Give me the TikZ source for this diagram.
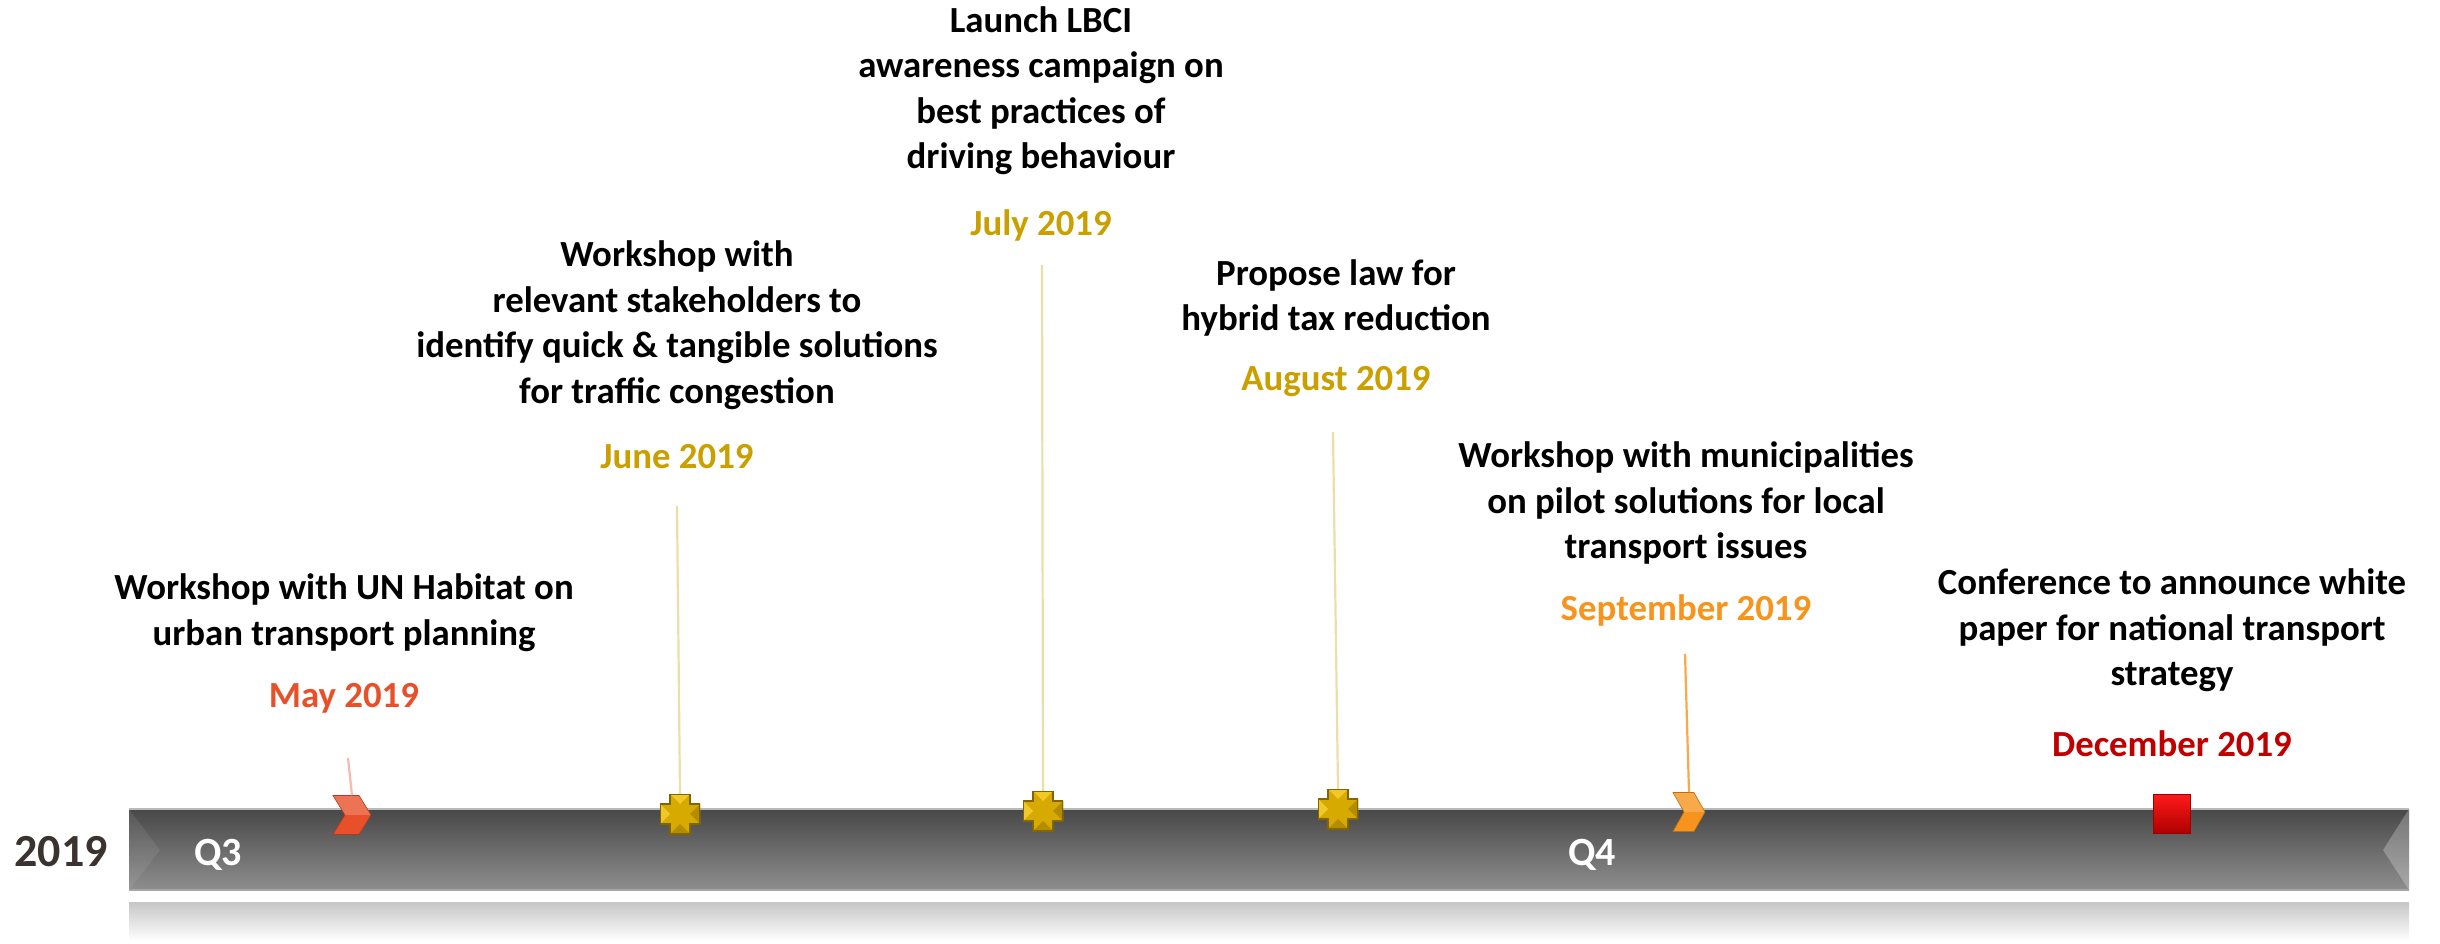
\documentclass[tikz,border=0pt]{standalone}
\usepackage{fontspec}
\setmainfont{Carlito}
\usetikzlibrary{positioning,shapes.symbols}
\definecolor{MayRed}{RGB}{232,80,42}
\definecolor{MidGold}{RGB}{201,160,0}
\definecolor{SepOrange}{RGB}{247,148,29}
\definecolor{DecRed}{RGB}{192,0,0}
\definecolor{YearInk}{RGB}{59,51,48}
\definecolor{CrossFill}{RGB}{214,170,0}
\definecolor{CrossLight}{RGB}{240,200,40}
\definecolor{CrossDark}{RGB}{180,140,0}
\definecolor{CrossEdge}{RGB}{130,100,0}
\definecolor{BarTop}{RGB}{72,72,72}
\definecolor{BarBottom}{RGB}{142,142,142}

\begin{document}
\begin{tikzpicture}[x=1pt,y=-1pt,
  desc/.style={font=\fontsize{36.8}{45.5}\selectfont\bfseries,align=center,inner sep=0pt},
  datelabel/.style={font=\fontsize{36.8}{45.5}\selectfont\bfseries,text=#1,inner sep=0pt,anchor=base},
  link/.style={draw=#1,line width=2.2pt},
  chev/.style n args={3}{signal,signal to=east,signal from=west,inner sep=0pt,
     minimum width=#2pt,minimum height=39pt,signal pointer angle=#3,
     fill=#1,draw=#1!75!black,line width=0.6pt,
     path picture={\fill[white,opacity=0.2] (path picture bounding box.north west) rectangle (path picture bounding box.east);}},
  plusmark/.style={rectangle,inner sep=0pt,minimum size=40pt,path picture={
     \begin{scope}[shift={(path picture bounding box.center)},x=1pt,y=1pt]
       \fill[CrossFill] (-10,20) -- (10,20) -- (10,10) -- (20,10) -- (20,-10) -- (10,-10) -- (10,-20)
          -- (-10,-20) -- (-10,-10) -- (-20,-10) -- (-20,10) -- (-10,10) -- cycle;
       \fill[CrossLight] (-10,20) -- (10,20) -- (0,10) -- cycle;
       \fill[CrossLight] (-20,10) -- (-20,-10) -- (-10,0) -- cycle;
       \fill[CrossDark] (10,-20) -- (-10,-20) -- (0,-10) -- cycle;
       \fill[CrossDark] (20,-10) -- (20,10) -- (10,0) -- cycle;
       \draw[CrossEdge,line width=1.4pt] (-10,20) -- (10,20) -- (10,10) -- (20,10) -- (20,-10) -- (10,-10) -- (10,-20)
          -- (-10,-20) -- (-10,-10) -- (-20,-10) -- (-20,10) -- (-10,10) -- cycle;
     \end{scope}}},
  sqmark/.style={rectangle,inner sep=0pt,minimum width=37pt,minimum height=39pt,
     top color=red!90!white,bottom color=DecRed!90!black,draw=DecRed!80!black,line width=0.6pt}]
  \useasboundingbox (0,0) rectangle (2440,944);

  % bar and its reflection
  \shade[top color=BarTop,bottom color=BarBottom] (129,809) rectangle (2409,890);
  \fill[white,opacity=0.08] (129,809) -- (160,850) -- (129,890) -- cycle;
  \fill[white,opacity=0.25] (2409,809) -- (2383,850) -- (2409,890) -- cycle;
  \draw[gray!55,line width=1.5pt] (129,809) -- (2409,809);
  \draw[gray!70,line width=1.5pt] (129,890) -- (2409,890);
  \shade[top color=gray!45,bottom color=white] (129,902) rectangle (2409,941);

  \node[font=\fontsize{46}{50}\selectfont\bfseries,text=YearInk,anchor=base] (year) at (61,866) {2019};
  \node[font=\fontsize{40}{44}\selectfont\bfseries,text=white,anchor=base] (q3) at (218,865) {Q3};
  \node[font=\fontsize{40}{44}\selectfont\bfseries,text=white,anchor=base] (q4) at (1592,865) {Q4};

  % dates
  \node[datelabel=MayRed] (d1) at (344,707) {May 2019};
  \node[datelabel=MidGold] (d2) at (677,468) {June 2019};
  \node[datelabel=MidGold] (d3) at (1041,235) {July 2019};
  \node[datelabel=MidGold] (d4) at (1336,390) {August 2019};
  \node[datelabel=SepOrange] (d5) at (1686,620) {September 2019};
  \node[datelabel=DecRed] (d6) at (2172,756) {December 2019};

  % events
  \node[desc,above=31pt of d1] (e1) {Workshop with UN Habitat on\\urban transport planning};
  \node[desc,above=34pt of d2] (e2) {Workshop with\\relevant stakeholders to\\identify quick \& tangible solutions\\for traffic congestion};
  \node[desc,above=34pt of d3] (e3) {Launch LBCI\\awareness campaign on\\best practices of\\driving behaviour};
  \node[desc,above=29pt of d4] (e4) {Propose law for\\hybrid tax reduction};
  \node[desc,above=29pt of d5] (e5) {Workshop with municipalities\\on pilot solutions for local\\transport issues};
  \node[desc,above=38pt of d6] (e6) {Conference to announce white\\paper for national transport\\strategy};

  % markers on the bar
  \node[chev={MayRed}{38}{117}] (m1) at (352,815) {};
  \node[plusmark] (m2) at (680,814) {};
  \node[plusmark] (m3) at (1043,811) {};
  \node[plusmark] (m4) at (1338,809) {};
  \node[chev={SepOrange}{32}{121}] (m5) at (1689,812) {};
  \node[sqmark] (m6) at (2172,814) {};

  \coordinate (t1) at (348,758);
  \coordinate (t2) at (677,506);
  \coordinate (t3) at (1042,265);
  \coordinate (t4) at (1333,432);
  \coordinate (t5) at (1685,654);
  \draw[link=MayRed!40] (t1) -- (m1.north);
  \draw[link=MidGold!35] (t2) -- (m2.north);
  \draw[link=MidGold!35] (t3) -- (m3.north);
  \draw[link=MidGold!35] (t4) -- (m4.north);
  \draw[link=SepOrange!80] (t5) -- (m5.north);
\end{tikzpicture}
\end{document}
